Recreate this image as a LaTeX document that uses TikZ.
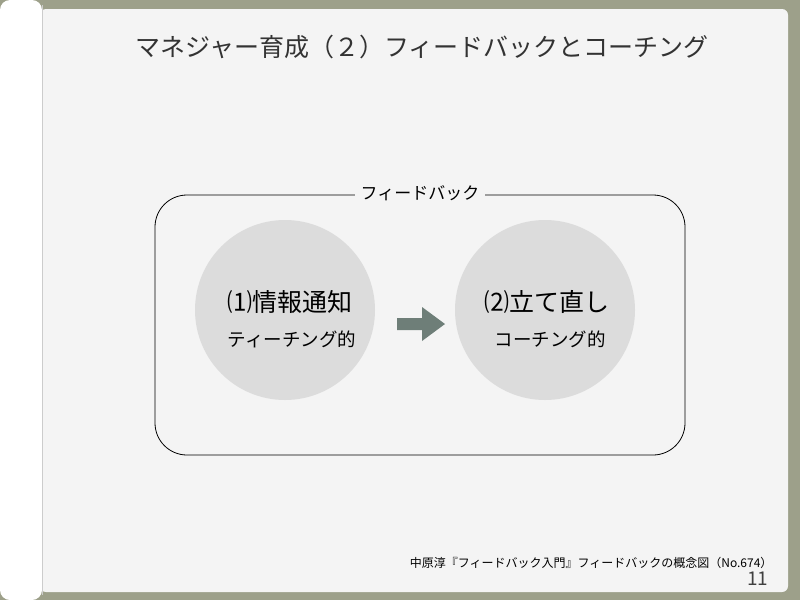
\documentclass[tikz,border=0pt]{standalone}
\usepackage{fontspec}
\setmainfont{Noto Sans CJK JP}
\definecolor{cover}{HTML}{9DA08A}
\definecolor{pagebg}{HTML}{F4F4F4}
\definecolor{disc}{HTML}{DCDCDC}
\definecolor{arrowgreen}{HTML}{6E7E78}
\tikzset{
  stage/.style={circle, fill=disc, minimum size=180pt, inner sep=0pt},
  big/.style={font=\fontsize{25pt}{27pt}\selectfont},
  small/.style={font=\fontsize{18.5pt}{20pt}\selectfont},
}
\begin{document}
\begin{tikzpicture}[x=1pt, y=-1pt]
        % Cover and pages
        \fill[cover] (0,0) rectangle (800,600);
        \fill[pagebg, rounded corners=6pt] (40,9) rectangle (788,592);
        \fill[white, rounded corners=10pt] (0,0) rectangle (42,600);
        \draw[gray!40] (42,5) -- (42,595);

        % Title
        \node[font=\fontsize{25pt}{27pt}\selectfont, text=black!80] (title) at (422,47) {マネジャー育成（２）フィードバックとコーチング};

        % Frame
        \draw[black, thick, rounded corners=32pt] (155,195) rectangle (685,455);
        \node[fill=pagebg, font=\fontsize{17pt}{19pt}\selectfont, inner xsep=6pt] (frame) at (420,193) {フィードバック};

        % Stages
        \node[stage] (inform) at (285,310) {};
        \node[big] (informA) at (290,302) {⑴情報通知};
        \node[small] (informB) at (292,339) {ティーチング的};
        \node[stage] (rebuild) at (545,310) {};
        \node[big] (rebuildA) at (547,302) {⑵立て直し};
        \node[small] (rebuildB) at (550,339) {コーチング的};

        % Arrow
        \fill[arrowgreen] (397,318) -- (422,318) -- (422,307) -- (445,324) -- (422,341) -- (422,330) -- (397,330) -- cycle;

        % Footer
        \node[anchor=east, font=\fontsize{12pt}{14pt}\selectfont] (source) at (776,563) {中原淳『フィードバック入門』フィードバックの概念図（No.674）};
        \node[anchor=east, font=\fontsize{19pt}{21pt}\selectfont, text=black!75] (pageno) at (772,579) {11};
\end{tikzpicture}
\end{document}
